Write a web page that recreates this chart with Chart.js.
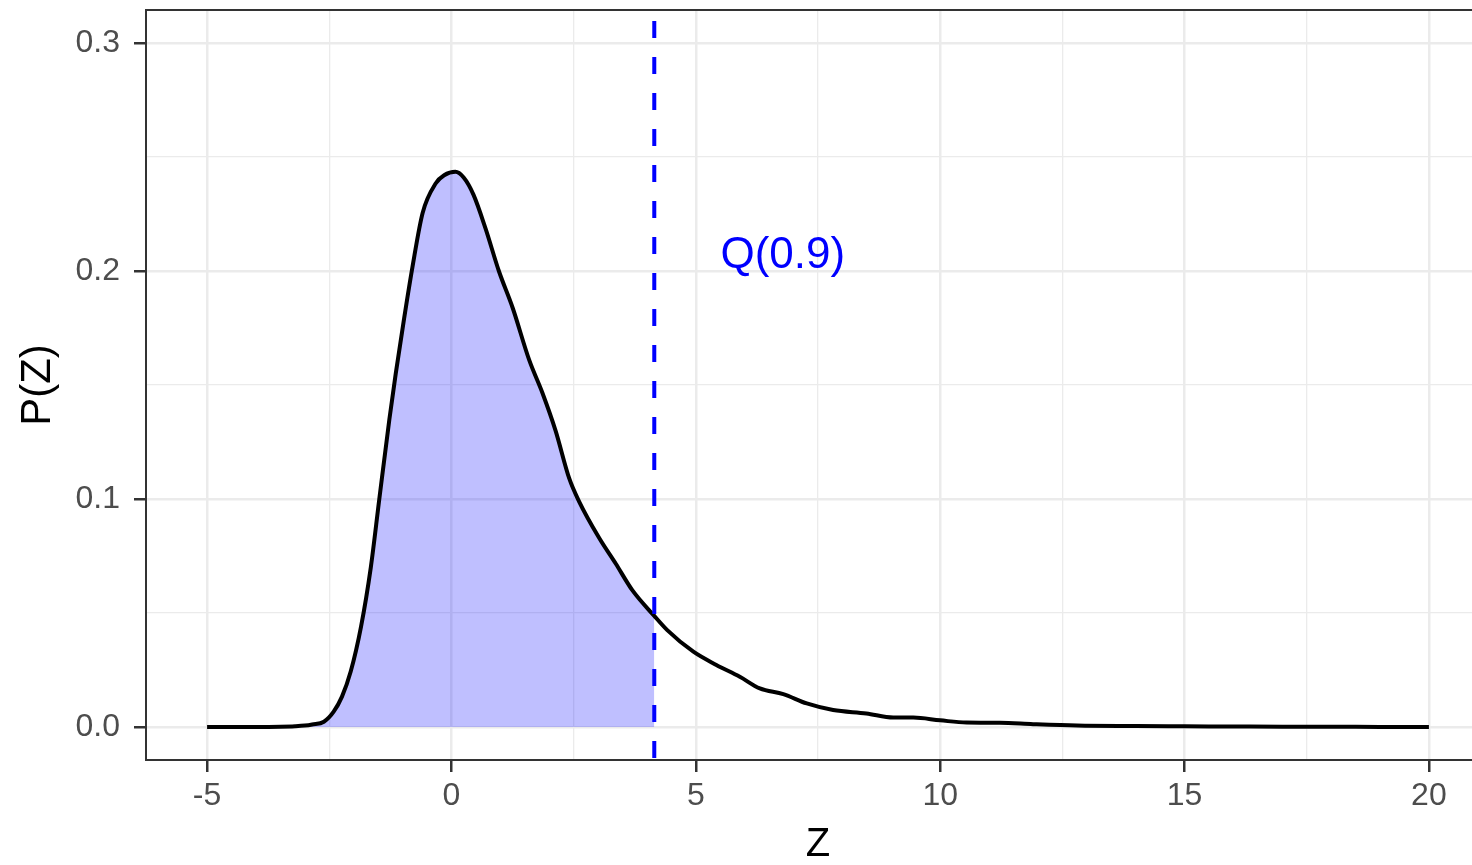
<!DOCTYPE html>
<html>
<head>
<meta charset="utf-8">
<script src="https://cdn.jsdelivr.net/npm/chart.js@4"></script>
<style>
  html, body { margin: 0; padding: 0; background: #fff; overflow: hidden; }
  #wrap { position: relative; width: 1492px; height: 865px; }
</style>
</head>
<body>
<div id="wrap"><canvas id="myChart"></canvas></div>
<script>
/* DATA */
var zValues = [-5, -4, -3.5, -3.2, -3.0, -2.85, -2.61, -2.41, -2.24, -2.06,
    -1.85, -1.65, -1.48, -1.27, -1.14, -0.97, -0.80, -0.59, -0.32, -0.15,
    0.08, 0.25, 0.45, 0.70, 0.97, 1.25, 1.59, 1.86, 2.13, 2.41,
    2.61, 3.02, 3.36, 3.70, 4.15, 4.41, 4.95, 5.42, 5.9, 6.31,
    6.79, 7.27, 7.81, 8.49, 9.04, 9.45, 10.0, 10.54, 11.22, 11.9,
    12.8, 14, 15, 16, 17, 18, 19, 20];
var density = [0, 0, 0.0001, 0.0003, 0.0006, 0.0011, 0.0023, 0.0067, 0.0133, 0.0244,
    0.044, 0.070, 0.0993, 0.135, 0.155, 0.179, 0.2015, 0.2255, 0.2385, 0.242,
    0.2435, 0.241, 0.2335, 0.2185, 0.200, 0.184, 0.161, 0.1466, 0.130, 0.109,
    0.099, 0.083, 0.0717, 0.060, 0.0487, 0.0426, 0.033, 0.0272, 0.022, 0.0169,
    0.0144, 0.0103, 0.0074, 0.0059, 0.0041, 0.0041, 0.0029, 0.0019, 0.0018, 0.0012,
    0.0006, 0.0004, 0.0003, 0.0002, 0.0001, 0.0001, 0.0, 0.0];

var q90 = 4.15;
var qLabel = 'Q(0.9)';
var qLabelPos = { x: 6.78, y: 0.2065 };

var xTicks = [-5, -2.5, 0, 2.5, 5, 7.5, 10, 12.5, 15, 17.5, 20];
var yTicks = [0, 0.05, 0.1, 0.15, 0.2, 0.25, 0.3];
var xRange = [-6.25, 21.25];
var yRange = [-0.0145, 0.3145];
/* DATA */

var curve = zValues.map(function(z, i) { return { x: z, y: density[i] }; });
var shaded = curve.filter(function(p) { return p.x <= q90; });
var vline = [{ x: q90, y: yRange[1] }, { x: q90, y: yRange[0] }];

var FONT = '"Liberation Sans", Arial, Helvetica, sans-serif';

function isMajor(v, step) {
    return Math.abs(v / step - Math.round(v / step)) < 1e-6;
}

var panelBorder = {
    id: 'panelBorder',
    afterDatasetsDraw: function(chart) {
        var a = chart.chartArea, ctx = chart.ctx;
        ctx.save();
        ctx.strokeStyle = '#333333';
        ctx.lineWidth = 2;
        ctx.strokeRect(a.left, a.top, a.right - a.left, a.bottom - a.top);
        ctx.restore();
    }
};

var qText = {
    id: 'qText',
    afterDatasetsDraw: function(chart) {
        var ctx = chart.ctx;
        var px = chart.scales.x.getPixelForValue(qLabelPos.x);
        var py = chart.scales.y.getPixelForValue(qLabelPos.y);
        ctx.save();
        ctx.fillStyle = '#0000ff';
        ctx.font = '44px ' + FONT;
        ctx.textAlign = 'center';
        ctx.textBaseline = 'middle';
        ctx.fillText(qLabel, px, py);
        ctx.restore();
    }
};

var config = {
    type: 'line',
    data: {
        datasets: [
            { label: 'shade', data: shaded, fill: 'origin', backgroundColor: 'rgba(0,0,255,0.25)',
              borderWidth: 0, pointRadius: 0, cubicInterpolationMode: 'monotone', order: 3 },
            { label: 'density', data: curve, fill: false, borderColor: '#000000',
              borderWidth: 4, pointRadius: 0, cubicInterpolationMode: 'monotone', order: 2 },
            { label: 'q90', data: vline, fill: false, borderColor: '#0000ff', borderWidth: 4,
              borderDash: [17, 19], borderDashOffset: 25, pointRadius: 0, order: 1 }
        ]
    },
    options: {
        responsive: true,
        maintainAspectRatio: false,
        animation: false,
        layout: { padding: { left: 0, top: 10, right: 2, bottom: 0 } },
        plugins: { legend: { display: false }, tooltip: { enabled: false } },
        scales: {
            x: {
                type: 'linear',
                min: xRange[0],
                max: xRange[1],
                afterBuildTicks: function(scale) {
                    scale.ticks = xTicks.map(function(v) { return { value: v }; });
                },
                afterFit: function(scale) {
                    scale.height = 105;
                    scale.paddingLeft = 0;
                    scale.paddingRight = 0;
                },
                border: { display: false },
                grid: {
                    color: '#ebebeb',
                    lineWidth: function(c) { return isMajor(c.tick.value, 5) ? 2.5 : 1.3; },
                    tickColor: function(c) { return isMajor(c.tick.value, 5) ? '#333333' : 'rgba(0,0,0,0)'; },
                    tickWidth: 2.5,
                    tickLength: 12
                },
                ticks: {
                    autoSkip: false,
                    maxRotation: 0,
                    padding: 5,
                    color: '#4d4d4d',
                    font: { family: FONT, size: 32, lineHeight: 1.2 },
                    callback: function(v) { return isMajor(v, 5) ? String(v) : ''; }
                },
                title: {
                    display: true,
                    text: 'Z',
                    color: '#000000',
                    font: { family: FONT, size: 40, lineHeight: 1 },
                    padding: { top: 0, bottom: 0 }
                }
            },
            y: {
                type: 'linear',
                min: yRange[0],
                max: yRange[1],
                afterBuildTicks: function(scale) {
                    scale.ticks = yTicks.map(function(v) { return { value: v }; });
                },
                afterFit: function(scale) {
                    scale.width = 146;
                    scale.paddingTop = 0;
                    scale.paddingBottom = 0;
                },
                border: { display: false },
                grid: {
                    color: '#ebebeb',
                    lineWidth: function(c) { return isMajor(c.tick.value, 0.1) ? 2.5 : 1.3; },
                    tickColor: function(c) { return isMajor(c.tick.value, 0.1) ? '#333333' : 'rgba(0,0,0,0)'; },
                    tickWidth: 2.5,
                    tickLength: 12
                },
                ticks: {
                    autoSkip: false,
                    padding: 14,
                    color: '#4d4d4d',
                    font: { family: FONT, size: 32 },
                    callback: function(v) { return isMajor(v, 0.1) ? v.toFixed(1) : ''; }
                },
                title: {
                    display: true,
                    text: 'P(Z)',
                    color: '#000000',
                    font: { family: FONT, size: 42, lineHeight: 1 },
                    padding: { top: 17, bottom: 0 }
                }
            }
        }
    },
    plugins: [panelBorder, qText]
};

window.onload = function() {
    var ctx = document.getElementById('myChart').getContext('2d');
    window.myChart = new Chart(ctx, config);
};
</script>
</body>
</html>
